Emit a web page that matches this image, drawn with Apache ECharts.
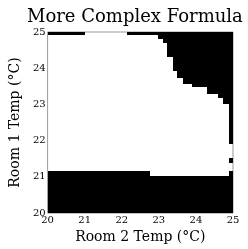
<!DOCTYPE html>
<html>
<head>
<meta charset="utf-8">
<script src="https://cdn.jsdelivr.net/npm/echarts@6/dist/echarts.min.js"></script>
<style>
  html, body { margin: 0; padding: 0; background: #fff; }
  #chart { width: 248px; height: 249px; }
</style>
</head>
<body>
<div id="chart"></div>
<script>
const xTicks = [20, 21, 22, 23, 24, 25]
const yTicks = [20, 21, 22, 23, 24, 25]

// black (off) regions, one rectangle per entry: Room 2 range, Room 1 range
const cellX0 = [20, 22.14, 22.99, 23.12, 23.23, 23.39, 23.49, 23.65, 23.89, 24.31, 24.6, 24.74, 24.88, 24.9, 24.9, 20, 22.75]
const cellX1 = [21.0, 25, 25, 25, 25, 25, 25, 25, 25, 25, 25, 25, 25, 25, 25, 22.75, 25]
const cellY0 = [24.92, 24.92, 24.81, 24.71, 24.3, 23.93, 23.72, 23.56, 23.48, 23.29, 23.18, 23.02, 21.9, 21.39, 21.0, 20, 20]
const cellY1 = [25, 25, 24.92, 24.81, 24.71, 24.3, 23.93, 23.72, 23.56, 23.48, 23.29, 23.18, 23.02, 21.52, 21.15, 21.15, 21.02]

const cells = cellX0.map((x0, i) => [x0, cellX1[i], cellY0[i], cellY1[i]])

const chart = echarts.init(document.getElementById('chart'))
const font = 'DejaVu Serif'

const option = {
  animation: false,
  title: {
    text: 'More Complex Formula',
    left: 22,
    top: 3,
    textStyle: { fontFamily: font, fontSize: 18, fontWeight: 'normal', color: '#000' }
  },
  grid: {
    left: 44,
    right: 15,
    top: 32,
    bottom: 30,
    show: true,
    borderColor: '#999',
    borderWidth: 1
  },
  xAxis: {
    type: 'value',
    min: 20,
    max: 25,
    interval: 1,
    name: 'Room 2 Temp (°C)',
    nameLocation: 'middle',
    nameGap: 11,
    nameTextStyle: { fontFamily: font, fontSize: 14, color: '#000' },
    axisLine: { show: false },
    axisTick: { show: false },
    splitLine: { show: false },
    axisLabel: {
      margin: 2,
      fontFamily: font,
      fontSize: 10,
      color: '#000',
      formatter: (v) => (xTicks.includes(v) ? String(v) : '')
    }
  },
  yAxis: {
    type: 'value',
    min: 20,
    max: 25,
    interval: 1,
    name: 'Room 1 Temp (°C)',
    nameLocation: 'middle',
    nameGap: 15,
    nameTextStyle: { fontFamily: font, fontSize: 14, color: '#000' },
    axisLine: { show: false },
    axisTick: { show: false },
    splitLine: { show: false },
    axisLabel: {
      margin: 2,
      fontFamily: font,
      fontSize: 10,
      color: '#000',
      formatter: (v) => (yTicks.includes(v) ? String(v) : '')
    }
  },
  series: [
    {
      type: 'custom',
      clip: true,
      renderItem: function (params, api) {
        const p0 = api.coord([api.value(0), api.value(3)])
        const p1 = api.coord([api.value(1), api.value(2)])
        const x0 = Math.round(p0[0])
        const y0 = Math.round(p0[1])
        return {
          type: 'rect',
          shape: { x: x0, y: y0, width: Math.round(p1[0]) - x0, height: Math.round(p1[1]) - y0 },
          style: { fill: '#000' }
        }
      },
      encode: { x: [0, 1], y: [2, 3] },
      data: cells
    }
  ]
}

chart.setOption(option)
</script>
</body>
</html>
